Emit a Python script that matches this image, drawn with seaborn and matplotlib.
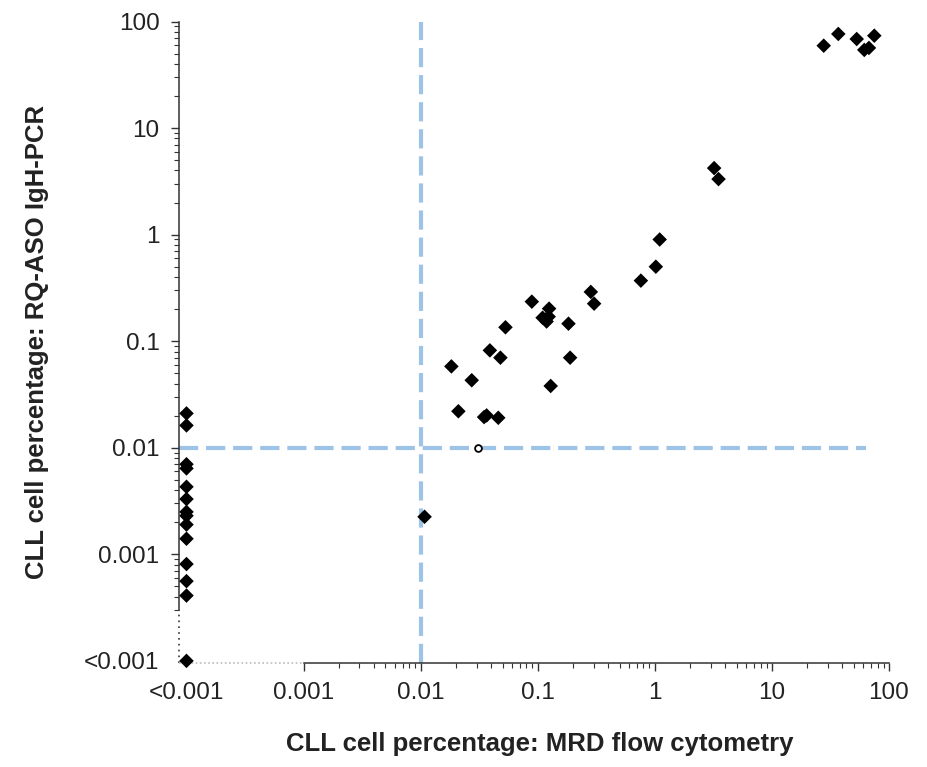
import matplotlib
matplotlib.use("Agg")
import matplotlib.pyplot as plt
import seaborn as sns
import pandas as pd
from matplotlib.ticker import FixedLocator, NullFormatter

# "<0.001" values are drawn at 0.0001
BELOW = 1e-4

# samples positive by both methods (percent)
flow_pct = [1.02, 1.10, 0.76, 0.284, 0.303, 0.089, 0.125, 0.110, 0.124, 0.119,
            0.183, 0.053, 0.039, 0.048, 0.189, 0.0183, 0.0273, 0.129, 0.021,
            0.0348, 0.0366, 0.046, 0.0108, 3.21, 3.50,
            27.7, 36.9, 53.0, 74.9, 61.5, 67.4]
pcr_pct = [0.50, 0.90, 0.37, 0.29, 0.225, 0.235, 0.202, 0.166, 0.170, 0.153,
           0.146, 0.135, 0.082, 0.070, 0.070, 0.058, 0.043, 0.038, 0.022,
           0.0194, 0.0201, 0.0191, 0.00225, 4.21, 3.32,
           59.3, 76.4, 68.5, 73.6, 54.1, 56.5]

# flow cytometry <0.001, PCR value
pcr_only_pct = [0.021, 0.0162, 0.0070, 0.0064, 0.0043, 0.0033, 0.0025, 0.0023,
                0.0019, 0.0014, 0.00081, 0.00056, 0.00041, BELOW]

# open symbol
open_flow = [0.0306]
open_pcr = [0.01]

tick_vals = [BELOW, 1e-3, 1e-2, 1e-1, 1, 10, 100]
tick_labels = ["<0.001", "0.001", "0.01", "0.1", "1", "10", "100"]
cutoff = 0.01

df = pd.DataFrame({"flow": flow_pct + [BELOW] * len(pcr_only_pct),
                   "pcr": pcr_pct + pcr_only_pct})
df_open = pd.DataFrame({"flow": open_flow, "pcr": open_pcr})

sns.set_style("ticks")
plt.rcParams["font.family"] = ["Liberation Sans", "DejaVu Sans"]

fig = plt.figure(figsize=(9.28, 7.67), dpi=100)
ax = fig.add_axes([179 / 928, 1 - 663 / 767, 710 / 928, 641.5 / 767])
ax.set_xscale("log")
ax.set_yscale("log")
xmin, ymin = 10 ** -4.064, 10 ** -4.02
ax.set_xlim(xmin, 100)
ax.set_ylim(ymin, 100)

blue = "#9dc3e6"
ax.axvline(cutoff, color=blue, lw=3, dashes=(4.6, 1.9), zorder=1)
ax.plot([xmin, 63], [cutoff, cutoff], color=blue, lw=3, dashes=(4.6, 1.9), zorder=1)

sns.scatterplot(data=df, x="flow", y="pcr", marker="D", s=55, color="black",
                edgecolor="none", ax=ax, zorder=3, clip_on=False)
sns.scatterplot(data=df_open, x="flow", y="pcr", marker="o", s=24,
                facecolor="white", edgecolor="black", linewidth=1.3, ax=ax, zorder=4)

sns.despine(ax=ax)
ax.spines["left"].set_bounds(3e-4, 100)
ax.spines["bottom"].set_bounds(1e-3, 100)
for sp in ("left", "bottom"):
    ax.spines[sp].set_linewidth(1.1)
    ax.spines[sp].set_color("#333333")
ax.plot([xmin, xmin], [ymin, 3e-4], color="#333333", lw=1.2, ls=(0, (1, 2.5)),
        clip_on=False, zorder=2)
ax.plot([xmin, 1e-3], [ymin, ymin], color="#bbbbbb", lw=1.2, ls=(0, (1, 1.5)),
        clip_on=False, zorder=2)

ax.xaxis.set_major_locator(FixedLocator(tick_vals))
ax.yaxis.set_major_locator(FixedLocator(tick_vals))
ax.set_xticklabels(tick_labels)
ax.set_yticklabels(tick_labels)
x_minor = [m * 10 ** e for e in range(-3, 2) for m in range(2, 10)]
y_minor = [m * 10 ** e for e in range(-4, 2) for m in range(2, 10) if m * 10 ** e >= 3e-4]
ax.xaxis.set_minor_locator(FixedLocator(x_minor))
ax.yaxis.set_minor_locator(FixedLocator(y_minor))
ax.xaxis.set_minor_formatter(NullFormatter())
ax.yaxis.set_minor_formatter(NullFormatter())
ax.tick_params(which="major", length=6, width=1, color="#333333", labelsize=17.5,
               labelcolor="#222222")
ax.tick_params(axis="x", which="major", pad=8)
ax.tick_params(axis="y", which="major", pad=8)
ax.tick_params(which="minor", length=3.5, width=0.8, color="#333333")
ax.xaxis.get_major_ticks()[0].tick1line.set_visible(False)
ax.yaxis.get_major_ticks()[0].tick1line.set_visible(False)

ax.set_xlabel("CLL cell percentage: MRD flow cytometry", fontsize=18.5,
              fontweight="bold", color="#222222")
ax.set_ylabel("CLL cell percentage: RQ-ASO IgH-PCR", fontsize=18.5,
              fontweight="bold", color="#222222")
ax.xaxis.set_label_coords(0.508, -0.108)
ax.yaxis.set_label_coords(-0.183, 0.5)

fig.savefig("out.png", dpi=100)
